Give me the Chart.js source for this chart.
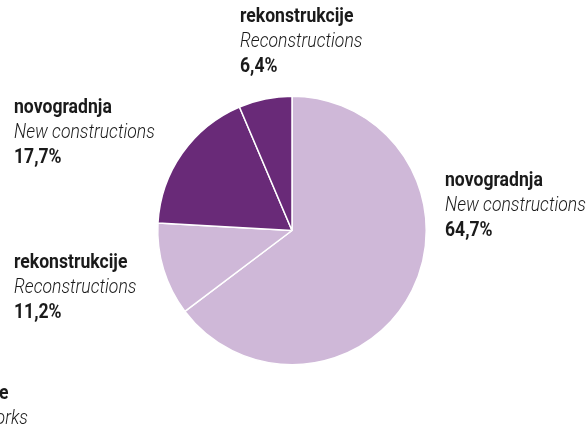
<!DOCTYPE html>
<html>
<head>
<meta charset="utf-8">
<script src="https://cdn.jsdelivr.net/npm/chart.js@4.4.1/dist/chart.umd.min.js"></script>
<style>
  html, body { margin: 0; padding: 0; background: #fff; }
  #wrap { position: relative; width: 587px; height: 425px; overflow: hidden; }
  #wrap canvas { position: absolute; left: 0; top: 0; }
  .lbl { position: absolute; font-family: "Roboto", sans-serif; font-size: 20px; line-height: 25px; color: #1a1a1a; white-space: nowrap;
         transform: scaleX(0.88); transform-origin: left top; }
  .lbl b { font-weight: bold; display: block; }
  .lbl i { font-style: italic; display: block; font-weight: 300; }
  .lbl.cut { transform-origin: right top; text-align: right; }
</style>
</head>
<body>
<div id="wrap">
  <canvas id="pie" width="587" height="425"></canvas>
</div>
<script>
// ---- data ----
const NAMES_HR = ['novogradnja', 'rekonstrukcije', 'novogradnja', 'rekonstrukcije'];
const NAMES_EN = ['New constructions', 'Reconstructions', 'New constructions', 'Reconstructions'];
const SHARES = [64.7, 11.2, 17.7, 6.4];
const SLICE_COLORS = ['#cfb8d8', '#cfb8d8', '#692a78', '#692a78'];

// label boxes (left, top) — layout only
const LABEL_POS = [[445, 167], [14, 249], [14, 94], [240, 3]];

const fmt = v => v.toFixed(1).replace('.', ',') + '%';

new Chart(document.getElementById('pie'), {
  type: 'pie',
  data: {
    labels: NAMES_HR,
    datasets: [{
      data: SHARES,
      backgroundColor: SLICE_COLORS,
      borderColor: '#ffffff',
      borderWidth: 1.5,
    }],
  },
  options: {
    responsive: false,
    animation: false,
    rotation: 0,
    layout: { padding: { left: 157, right: 160, top: 95, bottom: 59 } },
    plugins: { legend: { display: false }, tooltip: { enabled: false } },
  },
});

// ---- slice labels ----
const wrap = document.getElementById('wrap');
SHARES.forEach((v, i) => {
  const d = document.createElement('div');
  d.className = 'lbl';
  d.style.left = LABEL_POS[i][0] + 'px';
  d.style.top = LABEL_POS[i][1] + 'px';
  d.innerHTML = `<b>${NAMES_HR[i]}</b><i>${NAMES_EN[i]}</i><b>${fmt(v)}</b>`;
  wrap.appendChild(d);
});

// cut-off group label at bottom left
const cut = document.createElement('div');
cut.className = 'lbl cut';
cut.style.right = (587 - 28) + 'px';
cut.style.top = 380 + 'px';
cut.innerHTML = '<b style="margin-right:22px">građevine</b><i>Civil engineering works</i>';
wrap.appendChild(cut);
</script>
</body>
</html>
